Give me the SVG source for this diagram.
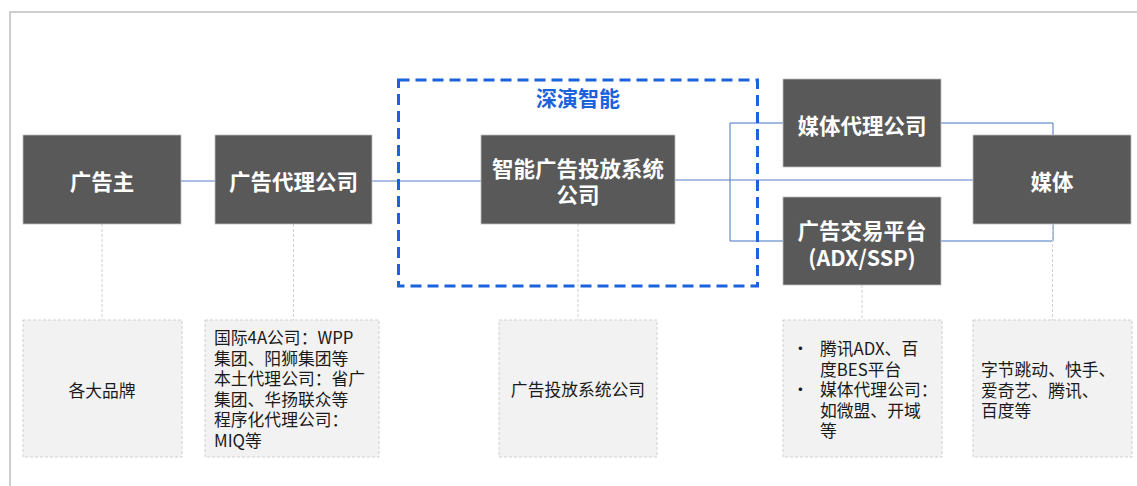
<svg xmlns="http://www.w3.org/2000/svg" width="1137" height="486" viewBox="0 0 1137 486">
<style>
.box{fill:#595959;stroke:#bfbfbf;stroke-width:0.8}
.lbl{font-family:"Noto Sans CJK SC",sans-serif;font-weight:bold;font-size:21.5px;fill:#ffffff;text-anchor:middle;dominant-baseline:central}
.desc{fill:#f2f2f2;stroke:#d0d0d0;stroke-width:1;stroke-dasharray:3 2}
.dt{font-family:"Noto Sans CJK SC",sans-serif;font-size:16.8px;fill:#1a1a1a;dominant-baseline:central}
.main{stroke:#8faadc;stroke-width:1.6;fill:none}
.br{stroke:#4472c4;stroke-width:1;fill:none}
.drop{stroke:#d0d0d0;stroke-width:1;stroke-dasharray:3 2;fill:none}
</style>
<rect x="10" y="12" width="1140" height="500" fill="#ffffff" stroke="#bfbfbf" stroke-width="1.5"/>
<g id="connectors">
<line class="main" x1="181" y1="181" x2="215" y2="181"/>
<line class="main" x1="372" y1="181" x2="481" y2="181"/>
<line class="main" x1="675" y1="180" x2="973" y2="180"/>
<polyline class="br" points="783,123 730,123 730,241 783,241"/>
<polyline class="br" points="941,123 1053,123 1053,135"/>
<polyline class="br" points="941,241 1053,241 1053,224"/>
<line class="drop" x1="102" y1="224" x2="102" y2="320"/>
<line class="drop" x1="293.5" y1="224" x2="293.5" y2="320"/>
<line class="drop" x1="578" y1="224" x2="578" y2="320"/>
<line class="drop" x1="862" y1="285" x2="862" y2="320"/>
<line class="drop" x1="1052.5" y1="224" x2="1052.5" y2="320"/>
</g>
<g id="group-shenyan">
<rect x="398.5" y="80" width="359" height="206" fill="none" stroke="#1a63dc" stroke-width="3" stroke-dasharray="11 6"/>
<text x="578" y="97" font-family="Noto Sans CJK SC,sans-serif" font-weight="bold" font-size="21" fill="#1a63dc" text-anchor="middle" dominant-baseline="central">深演智能</text>
</g>
<g id="node-advertiser">
<rect class="box" x="23" y="135" width="158" height="89"/>
<text class="lbl" x="102" y="180">广告主</text>
</g>
<g id="node-agency">
<rect class="box" x="215" y="135" width="157" height="89"/>
<text class="lbl" x="293.5" y="180">广告代理公司</text>
</g>
<g id="node-system">
<rect class="box" x="481" y="135" width="194" height="89"/>
<text class="lbl" x="578" y="167">智能广告投放系统<tspan x="578" dy="26">公司</tspan></text>
</g>
<g id="node-media-agency">
<rect class="box" x="783" y="79" width="158" height="88"/>
<text class="lbl" x="862" y="124">媒体代理公司</text>
</g>
<g id="node-adx">
<rect class="box" x="783" y="197" width="158" height="88"/>
<text class="lbl" x="862" y="229">广告交易平台<tspan x="862" dy="27">(ADX/SSP)</tspan></text>
</g>
<g id="node-media">
<rect class="box" x="973" y="135" width="158" height="89"/>
<text class="lbl" x="1052" y="180">媒体</text>
</g>
<g id="desc-advertiser">
<rect class="desc" x="23" y="320" width="159" height="137"/>
<text class="dt" x="102" y="390" text-anchor="middle">各大品牌</text>
</g>
<g id="desc-agency">
<rect class="desc" x="205" y="320" width="174" height="137"/>
<text class="dt" x="214" y="337">国际4A公司：WPP<tspan x="214" dy="20.5">集团、阳狮集团等</tspan><tspan x="214" dy="20.5">本土代理公司：省广</tspan><tspan x="214" dy="20.5">集团、华扬联众等</tspan><tspan x="214" dy="20.5">程序化代理公司：</tspan><tspan x="214" dy="20.5">MIQ等</tspan></text>
</g>
<g id="desc-system">
<rect class="desc" x="499" y="320" width="158" height="137"/>
<text class="dt" x="578" y="389" text-anchor="middle">广告投放系统公司</text>
</g>
<g id="desc-adx">
<rect class="desc" x="783" y="320" width="159" height="137"/>
<text class="dt" x="792" y="348">•<tspan x="820">腾讯ADX、百</tspan><tspan x="820" dy="20.5">度BES平台</tspan><tspan x="792" dy="20.5">•</tspan><tspan x="820">媒体代理公司：</tspan><tspan x="820" dy="20.5">如微盟、开域</tspan><tspan x="820" dy="20.5">等</tspan></text>
</g>
<g id="desc-media">
<rect class="desc" x="973" y="320" width="159" height="137"/>
<text class="dt" x="981" y="369">字节跳动、快手、<tspan x="981" dy="20.5">爱奇艺、腾讯、</tspan><tspan x="981" dy="20.5">百度等</tspan></text>
</g>
</svg>
